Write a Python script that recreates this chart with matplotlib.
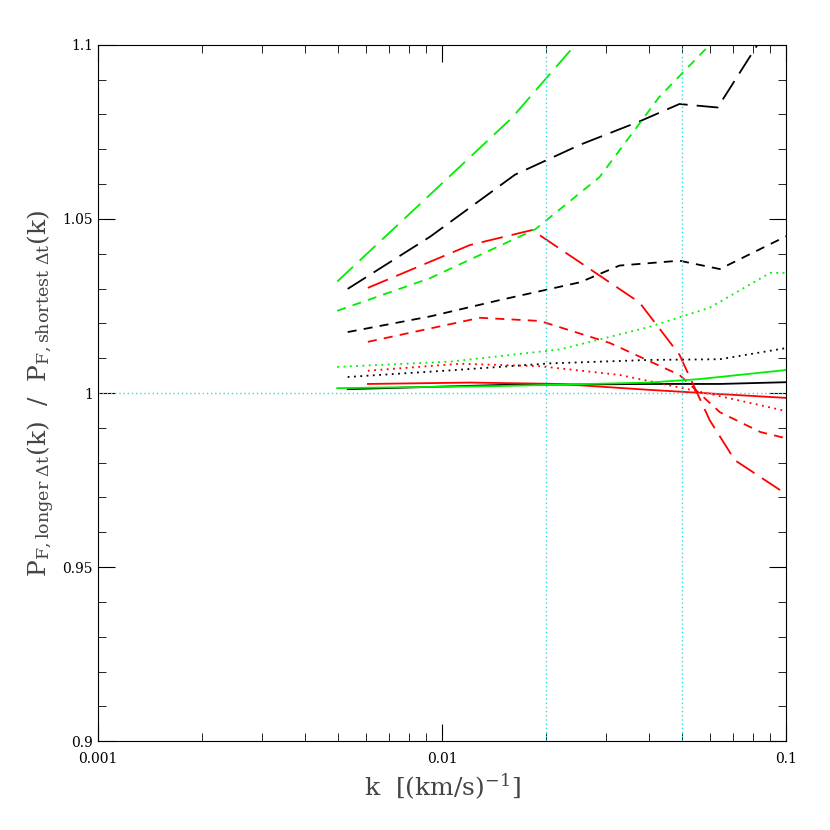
import matplotlib
matplotlib.use("Agg")
import matplotlib.pyplot as plt
from matplotlib.ticker import FixedLocator, MultipleLocator, LogLocator, NullFormatter

# data: (k, ratio)
g_long_k = [0.00496, 0.00924, 0.01596, 0.0244]
g_long_v = [1.032, 1.057, 1.079, 1.1]
g_short_k = [0.00496, 0.00924, 0.01866, 0.0287, 0.0428, 0.0600]
g_short_v = [1.0236, 1.033, 1.047, 1.062, 1.085, 1.1]
g_dot_k = [0.00496, 0.01055, 0.0220, 0.0401, 0.0600, 0.0899, 0.1]
g_dot_v = [1.0075, 1.009, 1.0125, 1.019, 1.0245, 1.0345, 1.0345]
g_sol_k = [0.00496, 0.01474, 0.0401, 0.0560, 0.1]
g_sol_v = [1.0014, 1.002, 1.003, 1.004, 1.0066]

b_long_k = [0.00532, 0.00924, 0.0163, 0.0252, 0.0375, 0.0490, 0.0633, 0.0826]
b_long_v = [1.0299, 1.0449, 1.0627, 1.0713, 1.078, 1.083, 1.082, 1.1]
b_short_k = [0.00532, 0.00924, 0.01474, 0.0252, 0.0328, 0.0490, 0.0642, 0.1]
b_short_v = [1.0175, 1.022, 1.0267, 1.0318, 1.0366, 1.038, 1.0356, 1.045]
b_dot_k = [0.00532, 0.01055, 0.02056, 0.0401, 0.0642, 0.1]
b_dot_v = [1.0046, 1.0065, 1.0085, 1.0095, 1.0097, 1.0129]
b_sol_k = [0.00532, 0.01474, 0.0401, 0.0642, 0.1]
b_sol_v = [1.0011, 1.0023, 1.0026, 1.0026, 1.0031]

r_long_k = [0.00609, 0.01206, 0.01828, 0.0375, 0.0490, 0.0600, 0.0710, 0.1]
r_long_v = [1.0302, 1.0425, 1.0468, 1.026, 1.011, 0.9922, 0.9807, 0.971]
r_short_k = [0.00609, 0.01289, 0.01925, 0.0307, 0.0490, 0.0642, 0.0842, 0.1]
r_short_v = [1.0147, 1.0216, 1.0207, 1.0144, 1.0052, 0.9945, 0.9888, 0.987]
r_dot_k = [0.00609, 0.01128, 0.01925, 0.0328, 0.0560, 0.0842, 0.1]
r_dot_v = [1.0064, 1.0084, 1.0077, 1.0052, 1.0004, 0.9965, 0.9948]
r_sol_k = [0.00609, 0.01206, 0.0220, 0.0401, 0.0642, 0.1]
r_sol_v = [1.0026, 1.0030, 1.0026, 1.0009, 0.9997, 0.9986]

vlines = [0.02, 0.05]
ytick_vals = [0.9, 0.95, 1.0, 1.05, 1.1]
ytick_labels = ["0.9", "0.95", "1", "1.05", "1.1"]
xtick_vals = [0.001, 0.01, 0.1]
xtick_labels = ["0.001", "0.01", "0.1"]

plt.rcParams["font.family"] = "DejaVu Serif"
plt.rcParams["mathtext.fontset"] = "dejavuserif"
fig = plt.figure(figsize=(8.3, 8.3), dpi=100)
ax = fig.add_axes([0.118, 0.107, 0.829, 0.839])
ax.set_xscale("log")
ax.set_xlim(0.001, 0.1)
ax.set_ylim(0.9, 1.1)

styles = {"long": (0, (12, 5)), "short": (0, (5, 4)), "dot": (0, (1, 2.5)), "sol": "-"}
series = [
    ("black", b_long_k, b_long_v, "long"), ("black", b_short_k, b_short_v, "short"),
    ("black", b_dot_k, b_dot_v, "dot"), ("black", b_sol_k, b_sol_v, "sol"),
    ("red", r_long_k, r_long_v, "long"), ("red", r_short_k, r_short_v, "short"),
    ("red", r_dot_k, r_dot_v, "dot"), ("red", r_sol_k, r_sol_v, "sol"),
    ("#00ee00", g_long_k, g_long_v, "long"), ("#00ee00", g_short_k, g_short_v, "short"),
    ("#00ee00", g_dot_k, g_dot_v, "dot"), ("#00ee00", g_sol_k, g_sol_v, "sol"),
]
for c, k, v, s in series:
    ax.plot(k, v, color=c, linestyle=styles[s], lw=1.3, clip_on=True)

ax.axhline(1.0, color="#33dddd", ls=(0, (1, 2)), lw=1)
for x in vlines:
    ax.axvline(x, color="#33dddd", ls=(0, (1, 2)), lw=1)

ax.yaxis.set_major_locator(FixedLocator(ytick_vals))
ax.set_yticklabels(ytick_labels)
ax.yaxis.set_minor_locator(MultipleLocator(0.01))
ax.set_xticks(xtick_vals)
ax.set_xticklabels(xtick_labels)
ax.xaxis.set_minor_locator(LogLocator(base=10, subs=range(2, 10)))
ax.xaxis.set_minor_formatter(NullFormatter())
ax.tick_params(which="both", direction="in", top=True, right=True, labelsize=10)
ax.tick_params(axis="x", which="major", pad=8)
ax.tick_params(which="major", length=12)
ax.tick_params(which="minor", length=6)
for sp in ax.spines.values():
    sp.set_linewidth(0.8)

ax.set_xlabel(r"k  $[(\mathrm{km/s})^{-1}]$", fontsize=18, color="#444444")
ax.set_ylabel(r"$\mathrm{P_{F,longer\ \Delta t}(k)\ \ /\ \ P_{F,shortest\ \Delta t}(k)}$",
              fontsize=18, color="#444444")
fig.savefig("out.png", dpi=100)
